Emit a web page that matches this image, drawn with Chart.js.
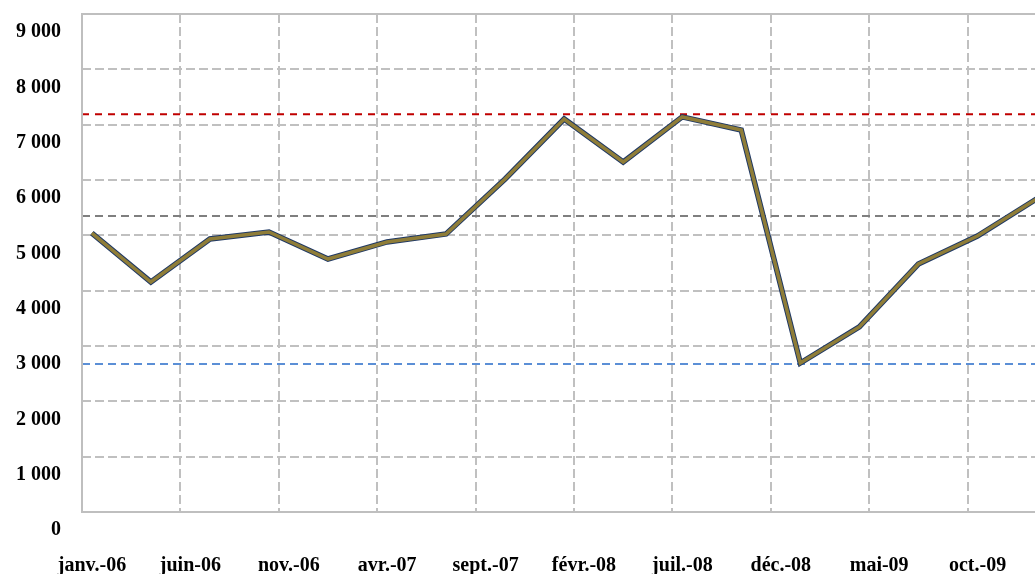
<!DOCTYPE html>
<html>
<head>
<meta charset="utf-8">
<script src="https://cdn.jsdelivr.net/npm/chart.js@4/dist/chart.umd.min.js"></script>
<style>
  html, body { margin: 0; padding: 0; overflow: hidden; background: #fff; }
  canvas { display: block; }
</style>
</head>
<body>
<canvas id="grafico" width="1070" height="574"></canvas>
<script>
// mois depuis janv.-06 (données trimestrielles)
const mois = [0, 3, 6, 9, 12, 15, 18, 21, 24, 27, 30, 33, 36, 39, 42, 45, 48];
const valeurs = [5040, 4157, 4934, 5060, 4572, 4880, 5024, 6018, 7103, 6325, 7140, 6904, 2693, 3344, 4482, 4988, 5657];
const etiquettesX = ['janv.-06', 'juin-06', 'nov.-06', 'avr.-07', 'sept.-07', 'févr.-08', 'juil.-08', 'déc.-08', 'mai-09', 'oct.-09'];
const ligneMax = 7190;
const ligneMoy = 5350;
const ligneMin = 2675;

// point au milieu du mois, comme l'axe "entre les graduations" d'Excel
const serie = () => mois.map((m, i) => ({ x: m + 0.5, y: valeurs[i] }));
const horiz = v => [{ x: 0, y: v }, { x: 50, y: v }];

const police = { family: '"Liberation Serif", "Times New Roman", serif', size: 20, weight: 'bold' };

const cadre = {
  id: 'cadre',
  afterDatasetsDraw(chart) {
    const { ctx, chartArea: a } = chart;
    ctx.save();
    ctx.strokeStyle = '#bfbfbf';
    ctx.lineWidth = 2;
    ctx.setLineDash([]);
    ctx.strokeRect(a.left, a.top, a.right - a.left, a.bottom - a.top);
    ctx.restore();
  }
};

// Chart.js dessine le premier dataset par-dessus les autres
new Chart(document.getElementById('grafico'), {
  type: 'line',
  data: {
    datasets: [
      { data: serie(), borderColor: '#8f7d38', borderWidth: 3.5, pointRadius: 0, tension: 0 },
      { data: serie(), borderColor: '#1f3864', borderWidth: 5.5, pointRadius: 0, tension: 0 },
      { data: horiz(ligneMax), borderColor: '#c00000', borderWidth: 2, borderDash: [7, 6], pointRadius: 0 },
      { data: horiz(ligneMoy), borderColor: '#7f7f7f', borderWidth: 2, borderDash: [8, 5], pointRadius: 0 },
      { data: horiz(ligneMin), borderColor: '#5b8fd6', borderWidth: 2, borderDash: [8, 5], pointRadius: 0 }
    ]
  },
  options: {
    responsive: false,
    animation: false,
    layout: { padding: { top: 14, right: 6, left: 0, bottom: 0 } },
    plugins: { legend: { display: false }, tooltip: { enabled: false } },
    scales: {
      x: {
        type: 'linear',
        min: 0,
        max: 49.9,
        afterFit: s => { s.height = 62; s.paddingLeft = 0; s.paddingRight = 0; },
        grid: { color: '#c0c0c0', lineWidth: 2, drawTicks: false },
        border: { display: false, dash: [9, 4] },
        ticks: {
          stepSize: 5,
          includeBounds: false,
          maxRotation: 0,
          autoSkip: false,
          padding: 42,
          labelOffset: 10,
          color: '#000',
          font: police,
          callback: v => etiquettesX[v / 5]
        }
      },
      y: {
        min: 0,
        max: 9000,
        afterFit: s => { s.width = 82; s.paddingTop = 0; s.paddingBottom = 0; },
        grid: { color: '#c0c0c0', lineWidth: 2, drawTicks: false },
        border: { display: false, dash: [9, 4] },
        ticks: {
          stepSize: 1000,
          padding: 21,
          labelOffset: 18,
          color: '#000',
          font: police,
          callback: v => String(v).replace(/\B(?=(\d{3})+(?!\d))/g, ' ')
        }
      }
    }
  },
  plugins: [cadre]
});
</script>
</body>
</html>
